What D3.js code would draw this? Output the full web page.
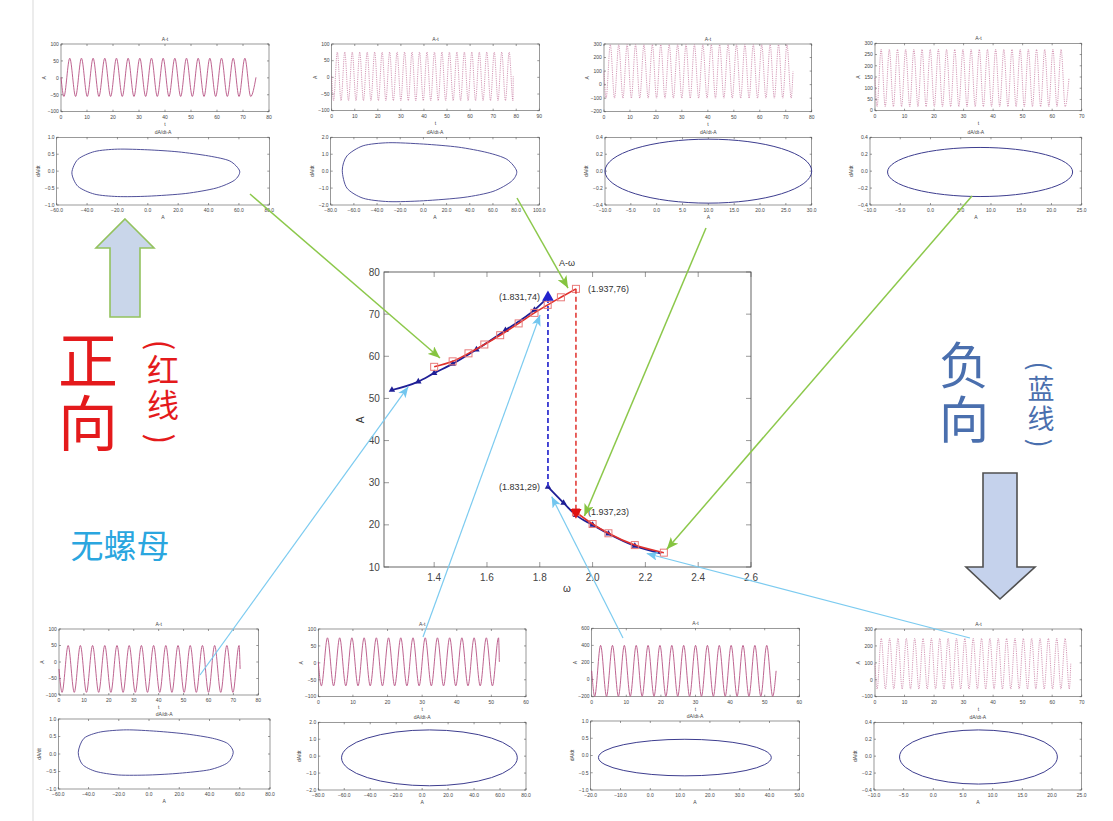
<!DOCTYPE html>
<html>
<head>
<meta charset="utf-8">
<script src="https://cdn.jsdelivr.net/npm/d3@7"></script>
<style>
  body { margin: 0; background: #fff; }
  text { font-family: "Liberation Sans", Arial, sans-serif; }
  .cjk { font-family: "Noto Sans CJK SC", sans-serif; }
  .vert { writing-mode: vertical-rl; }
</style>
</head>
<body>
<svg id="c" width="1113" height="821"></svg>
<script>
// ---------- A–ω sweep (main chart) ----------
// forward sweep, increasing ω (red)
const fwdUpperW = [1.40, 1.47, 1.53, 1.59, 1.65, 1.72, 1.78, 1.83, 1.88, 1.937];
const fwdUpperA = [57.5, 58.8, 60.7, 62.8, 65.0, 67.8, 70.3, 72.2, 74.0, 76.0];
const fwdLowerW = [1.937, 2.00, 2.06, 2.16, 2.27];
const fwdLowerA = [23.0, 20.2, 18.0, 15.2, 13.4];
// backward sweep, decreasing ω (blue)
const bwdUpperW = [1.24, 1.34, 1.40, 1.47, 1.56, 1.67, 1.78, 1.831];
const bwdUpperA = [52.0, 54.0, 56.0, 58.2, 61.6, 66.2, 71.0, 74.0];
const bwdLowerW = [1.831, 1.89, 1.937, 2.00, 2.06, 2.16, 2.26];
const bwdLowerA = [29.0, 25.2, 22.3, 20.0, 17.9, 15.0, 13.2];
// jump points
const jumpFwd = { w: 1.937, from: 76, to: 23 };
const jumpBwd = { w: 1.831, from: 29, to: 74 };
const jumpLabels = [
  { w: 1.831, a: 74, text: "(1.831,74)", side: "left" },
  { w: 1.937, a: 76, text: "(1.937,76)", side: "right" },
  { w: 1.831, a: 29, text: "(1.831,29)", side: "left" },
  { w: 1.937, a: 23, text: "(1.937,23)", side: "right" }
];
const xTicks = [1.4, 1.6, 1.8, 2.0, 2.2, 2.4, 2.6];
const yTicks = [10, 20, 30, 40, 50, 60, 70, 80];

// ---------- response insets (A-t and phase plots) ----------
// order: top row left→right, bottom row left→right
const waveTEnd   = [75, 78.7, 72.8, 65.7, 72.7, 52.3, 53.3, 66.3];
const wavePeriod = [4.49, 3.24, 3.24, 2.77, 4.9, 3.53, 3.43, 2.83];
const waveHi     = [58, 76, 295, 273, 50, 74, 400, 245];
const waveLo     = [-55, -70, -100, 18, -92, -68, -195, -55];
const timeXMax   = [80, 90, 80, 70, 80, 60, 60, 70];
const timeYDom   = [[-100,100],[-100,100],[-200,300],[0,300],[-100,100],[-100,100],[-200,600],[-100,300]];
const timeYStep  = [50, 50, 100, 50, 50, 50, 200, 100];

const phaseXDom  = [[-60,80],[-80,100],[-10,30],[-10,25],[-60,80],[-80,80],[-20,50],[-10,25]];
const phaseXStep = [20, 20, 5, 5, 20, 20, 10, 5];
const phaseYDom  = [[-1,1],[-2,2],[-0.4,0.4],[-0.4,0.4],[-1,1],[-2,2],[-1,1],[-0.4,0.4]];
const phaseYStep = [0.5, 1, 0.2, 0.2, 0.5, 1, 0.5, 0.2];
// elliptical orbits: [index, centre A, centre dA/dt, half-width, half-height]
const orbitEllipses = [
  [2, 10, 0, 20, 0.378],
  [3, 8.2, -0.01, 15.3, 0.29],
  [5, 5.6, -0.1, 67.7, 1.65],
  [6, 11.6, -0.06, 29, 0.53],
  [7, 7.6, -0.01, 13.3, 0.32]
];
// egg-shaped orbits, outline points (A, dA/dt)
const orbitEgg0 = [[-50,-0.05],[-46,0.35],[-35,0.58],[-20,0.65],[0,0.63],[20,0.57],[40,0.45],[54,0.3],[60.5,0.0],[57,-0.27],[45,-0.5],[25,-0.66],[0,-0.74],[-20,-0.75],[-35,-0.68],[-46,-0.45]];
const orbitEgg1 = [[-70,0.05],[-66,0.9],[-52,1.5],[-30,1.68],[0,1.6],[30,1.42],[55,1.1],[72,0.7],[80.5,0.0],[76,-0.6],[60,-1.2],[35,-1.55],[0,-1.75],[-30,-1.8],[-52,-1.6],[-66,-1.0]];
const orbitEgg4 = [[-46.8,0.05],[-43,0.45],[-32,0.63],[-15,0.69],[5,0.65],[25,0.57],[42,0.45],[52,0.3],[55.7,0.05],[52,-0.25],[40,-0.45],[20,-0.55],[0,-0.6],[-20,-0.6],[-35,-0.5],[-44,-0.3]];
const orbitEggs = [[0, orbitEgg0], [1, orbitEgg1], [4, orbitEgg4]];

// inset frames on the page: [left, top, right, bottom]
const timeBoxes = [[61,44,269,111.7],[331.7,44,539.3,110.7],[604,44,811.7,111.7],[875,43.3,1081.7,110.7],
                   [59,629,258.3,695],[318.3,629,526,696.7],[591.7,628.3,799.3,696.7],[875,629,1081.7,696.7]];
const phaseBoxes = [[56.7,137.3,269.3,205],[330.7,137.3,539.3,205],[605,137.3,811.7,205],[870,137.3,1081.7,205],
                    [58.3,719,270,789],[318.3,722.3,526,790],[590.7,721,799.3,790],[874,722.3,1081.7,790]];

// connectors: start on the page, tip in (ω, A)
const greenFrom = [[250,194],[517,198],[706,228],[972,196]];
const greenTip  = [[1.422,59.6],[1.907,76.2],[1.969,22.1],[2.281,14.2]];
const cyanFrom  = [[200,675],[423,637],[623,638],[970,638]];
const cyanTip   = [[1.302,52.8],[1.801,69.8],[1.845,26.7],[2.205,13.2]];

const svg = d3.select("#c");
svg.append("rect").attr("width", 1113).attr("height", 821).attr("fill", "#fff");
svg.append("line").attr("x1", 33).attr("x2", 33).attr("y1", 0).attr("y2", 821)
  .attr("stroke", "#d9d9d9").attr("stroke-width", 1);

// ---------- generic boxed axes ----------
function boxAxes(g, sx, sy, xt, yt, fx, fy, tick, fs, pad) {
  const [x0, x1] = sx.range(), [y1, y0] = sy.range();
  g.append("rect").attr("x", x0).attr("y", y0).attr("width", x1 - x0).attr("height", y1 - y0)
    .attr("fill", "#fff").attr("stroke", "#555").attr("stroke-width", fs > 6 ? 0.9 : 0.6);
  const tg = g.append("g").attr("stroke", "#555").attr("stroke-width", 0.6);
  xt.forEach(v => {
    const X = sx(v);
    tg.append("line").attr("x1", X).attr("x2", X).attr("y1", y1).attr("y2", y1 - tick);
    tg.append("line").attr("x1", X).attr("x2", X).attr("y1", y0).attr("y2", y0 + tick);
  });
  yt.forEach(v => {
    const Y = sy(v);
    tg.append("line").attr("x1", x0).attr("x2", x0 + tick).attr("y1", Y).attr("y2", Y);
    tg.append("line").attr("x1", x1).attr("x2", x1 - tick).attr("y1", Y).attr("y2", Y);
  });
  g.append("g").selectAll("text").data(xt).join("text")
    .attr("x", d => sx(d)).attr("y", y1 + pad + fs * 0.8).attr("text-anchor", "middle")
    .attr("font-size", fs).attr("fill", "#444").text(fx);
  g.append("g").selectAll("text").data(yt).join("text")
    .attr("x", x0 - pad * 0.7).attr("y", d => sy(d) + fs * 0.35).attr("text-anchor", "end")
    .attr("font-size", fs).attr("fill", "#444").text(fy);
}
const rangeTicks = (d, s) => d3.range(d[0], d[1] + s * 0.001, s).map(v => +v.toFixed(6));

// ---------- insets ----------
const fsSmall = 5;
timeBoxes.forEach((b, i) => {
  const g = svg.append("g");
  const sx = d3.scaleLinear().domain([0, timeXMax[i]]).range([b[0], b[2]]);
  const sy = d3.scaleLinear().domain(timeYDom[i]).range([b[3], b[1]]);
  boxAxes(g, sx, sy, rangeTicks([0, timeXMax[i]], 10), rangeTicks(timeYDom[i], timeYStep[i]),
    d => d3.format("d")(d), d => d3.format("d")(d), 2, fsSmall, 3);
  g.append("text").attr("x", (b[0] + b[2]) / 2).attr("y", b[1] - 3).attr("text-anchor", "middle")
    .attr("font-size", fsSmall).attr("fill", "#444").text("A-t");
  g.append("text").attr("x", (b[0] + b[2]) / 2).attr("y", b[3] + 14).attr("text-anchor", "middle")
    .attr("font-size", fsSmall).attr("fill", "#444").text("t");
  g.append("text").attr("transform", `translate(${b[0] - 15},${(b[1] + b[3]) / 2}) rotate(-90)`)
    .attr("text-anchor", "middle").attr("font-size", fsSmall).attr("fill", "#444").text("A");
  // turning points of the trace: alternating troughs / crests every half period
  const mid = (waveHi[i] + waveLo[i]) / 2;
  const pts = [[0, mid]];
  let k = 0;
  for (let t = wavePeriod[i] / 4; t < waveTEnd[i]; t += wavePeriod[i] / 2, k++) {
    pts.push([t, k % 2 === 0 ? waveLo[i] : waveHi[i]]);
  }
  pts.push([waveTEnd[i], mid]);
  const dense = wavePeriod[i] < 3.3;
  g.append("path").datum(pts)
    .attr("d", d3.line().x(d => sx(d[0])).y(d => sy(d[1])).curve(d3.curveMonotoneX))
    .attr("fill", "none").attr("stroke", "#b2487c")
    .attr("stroke-width", dense ? 0.55 : 0.85)
    .attr("stroke-dasharray", dense ? "1.2,1" : null);
});

phaseBoxes.forEach((b, i) => {
  const g = svg.append("g").attr("id", "phase" + i);
  const sx = d3.scaleLinear().domain(phaseXDom[i]).range([b[0], b[2]]);
  const sy = d3.scaleLinear().domain(phaseYDom[i]).range([b[3], b[1]]);
  boxAxes(g, sx, sy, rangeTicks(phaseXDom[i], phaseXStep[i]), rangeTicks(phaseYDom[i], phaseYStep[i]),
    d3.format(".1f"), d3.format(".1f"), 2, fsSmall, 3);
  g.append("text").attr("x", (b[0] + b[2]) / 2).attr("y", b[1] - 3).attr("text-anchor", "middle")
    .attr("font-size", fsSmall).attr("fill", "#444").text("dA/dt-A");
  g.append("text").attr("x", (b[0] + b[2]) / 2).attr("y", b[3] + 14).attr("text-anchor", "middle")
    .attr("font-size", fsSmall).attr("fill", "#444").text("A");
  g.append("text").attr("transform", `translate(${b[0] - 17},${(b[1] + b[3]) / 2}) rotate(-90)`)
    .attr("text-anchor", "middle").attr("font-size", fsSmall).attr("fill", "#444").text("dA/dt");
  g.node().__sx = sx; g.node().__sy = sy;
});
orbitEllipses.forEach(([i, cx, cy, rx, ry]) => {
  const g = d3.select("#phase" + i), sx = g.node().__sx, sy = g.node().__sy;
  g.append("ellipse").attr("cx", sx(cx)).attr("cy", sy(cy))
    .attr("rx", Math.abs(sx(cx + rx) - sx(cx))).attr("ry", Math.abs(sy(cy + ry) - sy(cy)))
    .attr("fill", "none").attr("stroke", "#3d3d8f").attr("stroke-width", 1);
});
orbitEggs.forEach(([i, pts]) => {
  const g = d3.select("#phase" + i), sx = g.node().__sx, sy = g.node().__sy;
  g.append("path").datum(pts)
    .attr("d", d3.line().x(d => sx(d[0])).y(d => sy(d[1])).curve(d3.curveCardinalClosed.tension(0.2)))
    .attr("fill", "none").attr("stroke", "#3d3d8f").attr("stroke-width", 0.9);
});

// ---------- main A–ω chart ----------
const x = d3.scaleLinear().domain([1.21, 2.6]).range([384, 751]);
const y = d3.scaleLinear().domain([10, 80]).range([567, 272]);
const main = svg.append("g");
boxAxes(main, x, y, xTicks, yTicks, d3.format(".1f"), d3.format("d"), 5, 10, 6);
main.append("text").attr("x", 567).attr("y", 266).attr("text-anchor", "middle")
  .attr("font-size", 9).attr("fill", "#333").text("A-ω");
main.append("text").attr("x", 567).attr("y", 592).attr("text-anchor", "middle")
  .attr("font-size", 10).attr("fill", "#333").text("ω");
main.append("text").attr("transform", "translate(364,420) rotate(-90)").attr("text-anchor", "middle")
  .attr("font-size", 10).attr("fill", "#333").text("A");

const zip = (w, a) => w.map((v, i) => [v, a[i]]);
const curve = d3.line().x(d => x(d[0])).y(d => y(d[1])).curve(d3.curveMonotoneX);
const blue = "#1f1f96", red = "#e0302b";

// backward sweep (blue) underneath
[zip(bwdUpperW, bwdUpperA), zip(bwdLowerW, bwdLowerA)].forEach(pts => {
  main.append("path").datum(pts).attr("d", curve).attr("fill", "none")
    .attr("stroke", blue).attr("stroke-width", 1.8);
  main.append("g").selectAll("path").data(pts.slice(0, -1)).join("path")
    .attr("transform", d => `translate(${x(d[0])},${y(d[1])})`)
    .attr("d", d3.symbol(d3.symbolTriangle, 18)).attr("fill", blue);
});
main.append("line").attr("x1", x(jumpBwd.w)).attr("x2", x(jumpBwd.w))
  .attr("y1", y(jumpBwd.from)).attr("y2", y(jumpBwd.to))
  .attr("stroke", "#3535d0").attr("stroke-width", 1.8).attr("stroke-dasharray", "5,3");

// forward sweep (red) on top
[zip(fwdUpperW, fwdUpperA), zip(fwdLowerW, fwdLowerA)].forEach(pts => {
  main.append("path").datum(pts).attr("d", curve).attr("fill", "none")
    .attr("stroke", red).attr("stroke-width", 1.6);
  main.append("g").selectAll("rect").data(pts).join("rect")
    .attr("x", d => x(d[0]) - 3.5).attr("y", d => y(d[1]) - 3.5).attr("width", 7).attr("height", 7)
    .attr("fill", "none").attr("stroke", "#e87a7a").attr("stroke-width", 1);
});
main.append("line").attr("x1", x(jumpFwd.w)).attr("x2", x(jumpFwd.w))
  .attr("y1", y(jumpFwd.from)).attr("y2", y(jumpFwd.to))
  .attr("stroke", red).attr("stroke-width", 1.5).attr("stroke-dasharray", "5,3");

// jump markers
main.append("path").attr("transform", `translate(${x(jumpBwd.w)},${y(jumpBwd.to)})`)
  .attr("d", d3.symbol(d3.symbolTriangle, 60)).attr("fill", "#2222cc");
main.append("path").attr("transform", `translate(${x(jumpFwd.w)},${y(jumpFwd.to)}) rotate(180)`)
  .attr("d", d3.symbol(d3.symbolTriangle, 55)).attr("fill", "#e01010");

main.append("g").selectAll("text").data(jumpLabels).join("text")
  .attr("x", d => x(d.w) + (d.side === "left" ? -8 : 12))
  .attr("y", d => y(d.a) + 3)
  .attr("text-anchor", d => d.side === "left" ? "end" : "start")
  .attr("font-size", 9).attr("fill", "#333").text(d => d.text);

// ---------- connectors ----------
const defs = svg.append("defs");
function head(id, color, len, wid) {
  defs.append("marker").attr("id", id).attr("markerUnits", "userSpaceOnUse")
    .attr("viewBox", `0 0 ${len} ${wid}`).attr("refX", len).attr("refY", wid / 2)
    .attr("markerWidth", len).attr("markerHeight", wid).attr("orient", "auto")
    .append("path").attr("d", `M0,0L${len},${wid / 2}L0,${wid}L${len * 0.25},${wid / 2}Z`).attr("fill", color);
}
head("hg", "#86c440", 12, 10);
head("hc", "#72c6ef", 11, 9);
greenFrom.forEach((s, i) => {
  svg.append("line").attr("x1", s[0]).attr("y1", s[1])
    .attr("x2", x(greenTip[i][0])).attr("y2", y(greenTip[i][1]))
    .attr("stroke", "#8cc84b").attr("stroke-width", 1.5).attr("marker-end", "url(#hg)");
});
cyanFrom.forEach((s, i) => {
  svg.append("line").attr("x1", s[0]).attr("y1", s[1])
    .attr("x2", x(cyanTip[i][0])).attr("y2", y(cyanTip[i][1]))
    .attr("stroke", "#7ccbf0").attr("stroke-width", 1.2).attr("marker-end", "url(#hc)");
});

// ---------- sweep-direction callouts ----------
svg.append("path").attr("d", "M125,219L154,248L140,248L140,317L110,317L110,248L96,248Z")
  .attr("fill", "#c9d6ea").attr("stroke", "#93c25e").attr("stroke-width", 1.6);
svg.append("path").attr("d", "M983,473L1017,473L1017,567L1035,567L1000,599L966,567L983,567Z")
  .attr("fill", "#c5d2ec").attr("stroke", "#505050").attr("stroke-width", 1.6);

// vertical (top-to-bottom) captions
const vtext = (s, cx, top, size, spacing, color) => svg.append("text").attr("class", "cjk vert")
  .attr("x", cx).attr("y", top).attr("font-size", size)
  .attr("letter-spacing", spacing).attr("fill", color).text(s);
// bracket turned a quarter turn, so it caps a vertical caption
const vparen = (s, cx, cy, size, color) => svg.append("text").attr("class", "cjk")
  .attr("transform", `translate(${cx},${cy}) rotate(90)`)
  .attr("text-anchor", "middle").attr("dominant-baseline", "central")
  .attr("font-size", size).attr("fill", color).text(s);

vtext("正向", 88, 330, 60, 3, "#e41a1c");
vparen("(", 163, 345, 32, "#e41a1c");
vtext("红线", 163, 354, 32, 3, "#e41a1c");
vparen(")", 163, 439, 32, "#e41a1c");

vtext("负向", 964, 340, 50, 4, "#4a6fae");
vparen("(", 1041, 366, 27, "#4a6fae");
vtext("蓝线", 1041, 375, 27, 3, "#4a6fae");
vparen(")", 1041, 443, 27, "#4a6fae");

svg.append("text").attr("class", "cjk").attr("x", 120).attr("y", 558).attr("text-anchor", "middle")
  .attr("font-size", 33).attr("fill", "#2aa6df").text("无螺母");
</script>
</body>
</html>
